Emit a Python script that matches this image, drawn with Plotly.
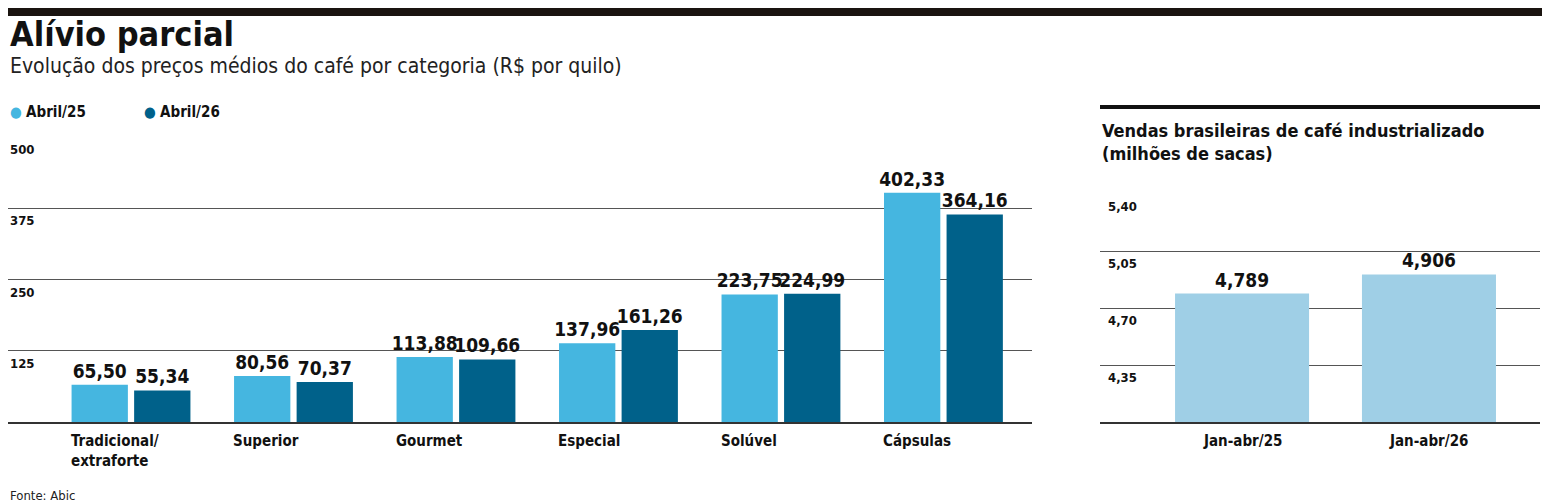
import plotly.graph_objects as go

categorias = ["Tradicional/<br>extraforte", "Superior", "Gourmet", "Especial", "Solúvel", "Cápsulas"]
abril25 = [65.50, 80.56, 113.88, 137.96, 223.75, 402.33]
abril26 = [55.34, 70.37, 109.66, 161.26, 224.99, 364.16]
ticks_esq = [125, 250, 375, 500]

periodos = ["Jan-abr/25", "Jan-abr/26"]
vendas = [4.789, 4.906]
ticks_dir = [4.35, 4.70, 5.05, 5.40]

# a pagina tem 8px de margem no body
OFF = 8
W, H = 1550 - OFF, 504 - OFF
FONT = "Liberation Sans Narrow, DejaVu Sans Condensed, Roboto, sans-serif"
C25, C26, CV = "#45b6e0", "#00618a", "#9fcfe6"

def br(v, d=2):
    return f"{v:.{d}f}".replace(".", ",")

def px(x):
    return max(0, (x - OFF) / W)

def py(y):
    return min(1, 1 - (y - OFF) / H)

x_esq = list(range(len(categorias)))
x_dir = list(range(len(periodos)))

fig = go.Figure()
fig.add_trace(go.Bar(x=x_esq, y=abril25, marker_color=C25, text=[br(v) for v in abril25],
                     textposition="outside", cliponaxis=False, xaxis="x", yaxis="y"))
fig.add_trace(go.Bar(x=x_esq, y=abril26, marker_color=C26, text=[br(v) for v in abril26],
                     textposition="outside", cliponaxis=False, xaxis="x", yaxis="y"))
fig.add_trace(go.Bar(x=x_dir, y=vendas, marker_color=CV, text=[br(v, 3) for v in vendas],
                     textposition="outside", cliponaxis=False, width=0.717, xaxis="x2", yaxis="y2"))
fig.update_traces(textfont=dict(family=FONT, size=19, color="#111", weight="bold"),
                  marker_line_width=0, showlegend=False)

ann = []
for t in ticks_esq:
    ann.append(dict(x=px(8), xref="paper", y=t, yref="y", text=f"<b>{t}</b>", showarrow=False,
                    xanchor="left", yanchor="top", yshift=-3, font=dict(family=FONT, size=13, color="#111")))
for t in ticks_dir:
    ann.append(dict(x=px(1106), xref="paper", y=t, yref="y2", text=f"<b>{br(t)}</b>", showarrow=False,
                    xanchor="left", yanchor="top", yshift=-3, font=dict(family=FONT, size=13, color="#111")))
for i, c in enumerate(categorias):
    ann.append(dict(x=i, xref="x", y=py(430), yref="paper", text=f"<b>{c}</b>", showarrow=False,
                    xanchor="left", yanchor="top", xshift=-62, align="left",
                    font=dict(family=FONT, size=15, color="#111")))
for i, p in enumerate(periodos):
    ann.append(dict(x=i, xref="x2", y=py(430), yref="paper", text=f"<b>{p}</b>", showarrow=False,
                    xanchor="center", yanchor="top", font=dict(family=FONT, size=15, color="#111")))

ann += [
    dict(x=0, y=py(12), xref="paper", yref="paper", text="<b>Alívio parcial</b>", showarrow=False,
         xanchor="left", yanchor="top", font=dict(family=FONT, size=34, color="#111")),
    dict(x=0, y=py(52), xref="paper", yref="paper", text="Evolução dos preços médios do café por categoria (R$ por quilo)",
         showarrow=False, xanchor="left", yanchor="top", font=dict(family=FONT, size=21, color="#222")),
    dict(x=0, y=py(112), xref="paper", yref="paper", text=f"<span style='color:{C25}'>●</span> <b>Abril/25</b>",
         showarrow=False, xanchor="left", yanchor="middle", font=dict(family=FONT, size=15, color="#111")),
    dict(x=px(142), y=py(112), xref="paper", yref="paper", text=f"<span style='color:{C26}'>●</span> <b>Abril/26</b>",
         showarrow=False, xanchor="left", yanchor="middle", font=dict(family=FONT, size=15, color="#111")),
    dict(x=px(1100), y=py(118), xref="paper", yref="paper",
         text="<b>Vendas brasileiras de café industrializado<br>(milhões de sacas)</b>", showarrow=False,
         xanchor="left", yanchor="top", align="left", font=dict(family=FONT, size=18, color="#111")),
    dict(x=0, y=py(486), xref="paper", yref="paper", text="Fonte: Abic", showarrow=False,
         xanchor="left", yanchor="top", font=dict(family=FONT, size=13, color="#222")),
]

shapes = [
    dict(type="rect", xref="paper", yref="paper", x0=0, x1=1, y0=py(16), y1=py(8), fillcolor="#1a1410", line_width=0),
    dict(type="line", xref="paper", yref="paper", x0=px(1100), x1=px(1540), y0=py(107), y1=py(107),
         line=dict(color="#111", width=4)),
]

fig.update_layout(
    width=W, height=H, margin=dict(l=0, r=0, t=0, b=0),
    paper_bgcolor="white", plot_bgcolor="white",
    barmode="group", bargap=0.23, bargroupgap=0.1,
    uniformtext=dict(minsize=19, mode="show"),
    xaxis=dict(domain=[px(8), px(1032)], range=[-0.757, 5.545], showticklabels=False, showgrid=False,
               zeroline=False, showline=True, linecolor="#333", linewidth=1.5),
    yaxis=dict(domain=[py(422), py(137)], range=[0, 500], tickvals=ticks_esq, showticklabels=False,
               gridcolor="#555", gridwidth=1, zeroline=False, anchor="x"),
    xaxis2=dict(domain=[px(1100), px(1540)], range=[-0.76, 1.594], showticklabels=False, showgrid=False,
                zeroline=False, showline=True, linecolor="#333", linewidth=1.5, anchor="y2"),
    yaxis2=dict(domain=[py(422), py(194)], range=[4, 5.4], tickvals=ticks_dir, showticklabels=False,
                gridcolor="#555", gridwidth=1, zeroline=False, anchor="x2"),
    annotations=ann, shapes=shapes,
)

fig.write_html("out.html")
